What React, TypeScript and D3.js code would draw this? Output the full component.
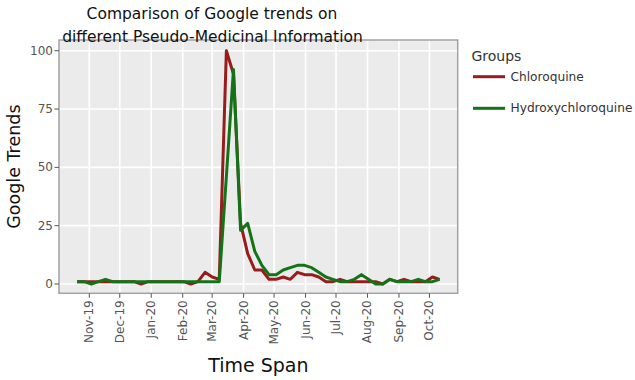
import React from "react";
import * as d3 from "d3";

const weeks = [
  "2019-10-20","2019-10-27","2019-11-03","2019-11-10","2019-11-17","2019-11-24",
  "2019-12-01","2019-12-08","2019-12-15","2019-12-22","2019-12-29",
  "2020-01-05","2020-01-12","2020-01-19","2020-01-26",
  "2020-02-02","2020-02-09","2020-02-16","2020-02-23",
  "2020-03-01","2020-03-08","2020-03-15","2020-03-22","2020-03-29",
  "2020-04-05","2020-04-12","2020-04-19","2020-04-26",
  "2020-05-03","2020-05-10","2020-05-17","2020-05-24","2020-05-31",
  "2020-06-07","2020-06-14","2020-06-21","2020-06-28",
  "2020-07-05","2020-07-12","2020-07-19","2020-07-26",
  "2020-08-02","2020-08-09","2020-08-16","2020-08-23","2020-08-30",
  "2020-09-06","2020-09-13","2020-09-20","2020-09-27",
  "2020-10-04","2020-10-11",
];

const chloroquine = [
  1, 1, 1, 1, 1, 1, 1, 1, 1, 0, 1,
  1, 1, 1, 1, 1, 0, 1, 5, 3, 2,
  100, 90, 26, 13, 6, 6, 2, 2, 3, 2,
  5, 4, 4, 3, 1, 1, 2, 1, 1, 1,
  1, 1, 0, 2, 1, 2, 1, 1, 1, 3, 2,
];

const hydroxychloroquine = [
  1, 1, 0, 1, 2, 1, 1, 1, 1, 1, 1,
  1, 1, 1, 1, 1, 1, 1, 1, 1, 1,
  46, 92, 23, 26, 14, 8, 4, 4, 6, 7,
  8, 8, 7, 5, 3, 2, 1, 1, 2, 4,
  2, 0, 0, 2, 1, 1, 1, 2, 1, 1, 2,
];

const monthTicks = [
  "2019-11-01","2019-12-01","2020-01-01","2020-02-01","2020-03-01","2020-04-01",
  "2020-05-01","2020-06-01","2020-07-01","2020-08-01","2020-09-01","2020-10-01",
];
const monthLabels = [
  "Nov-19","Dec-19","Jan-20","Feb-20","Mar-20","Apr-20",
  "May-20","Jun-20","Jul-20","Aug-20","Sep-20","Oct-20",
];
const yTicks = [0, 25, 50, 75, 100];

const groupNames = ["Chloroquine", "Hydroxychloroquine"];
const groupColors = ["#971c1c", "#137317"];

const W = 635;
const H = 380;
const P = { left: 59, right: 457.7, top: 40, bottom: 293.3 };
const FONT = "'DejaVu Sans', Verdana, sans-serif";

export default function App() {
  const dates = weeks.map((s) => new Date(s + "T00:00:00Z"));
  const d0 = dates[0].getTime();
  const d1 = dates[dates.length - 1].getTime();
  const pad = (d1 - d0) * 0.05;
  const x = d3
    .scaleUtc()
    .domain([new Date(d0 - pad), new Date(d1 + pad)])
    .range([P.left, P.right]);
  const y = d3.scaleLinear().domain([-4, 104.6]).range([P.bottom, P.top]);

  const line = d3
    .line<number>()
    .x((_, i) => x(dates[i]))
    .y((v) => y(v));

  const series = [chloroquine, hydroxychloroquine];
  const tickDates = monthTicks.map((s) => new Date(s + "T00:00:00Z"));

  return (
    <svg
      width={W}
      height={H}
      style={{ position: "absolute", left: 0, top: 0, background: "#fff" }}
      fontFamily={FONT}
    >
      <rect x={0} y={0} width={W} height={H} fill="#fff" />
      <rect
        x={P.left}
        y={P.top}
        width={P.right - P.left}
        height={P.bottom - P.top}
        fill="#ebebeb"
      />
      {yTicks.map((t) => (
        <line
          key={"gy" + t}
          x1={P.left}
          x2={P.right}
          y1={y(t)}
          y2={y(t)}
          stroke="#fff"
          strokeWidth={1.6}
        />
      ))}
      {tickDates.map((d, i) => (
        <line
          key={"gx" + i}
          x1={x(d)}
          x2={x(d)}
          y1={P.top}
          y2={P.bottom}
          stroke="#fff"
          strokeWidth={1.6}
        />
      ))}
      {series.map((s, i) => (
        <path
          key={"s" + i}
          d={line(s) || ""}
          fill="none"
          stroke={groupColors[i]}
          strokeWidth={3}
          strokeLinejoin="round"
        />
      ))}
      <rect
        x={P.left}
        y={P.top}
        width={P.right - P.left}
        height={P.bottom - P.top}
        fill="none"
        stroke="#a3a3a3"
        strokeWidth={1.5}
      />
      {yTicks.map((t) => (
        <g key={"ty" + t}>
          <line x1={P.left - 4.5} x2={P.left} y1={y(t)} y2={y(t)} stroke="#555" strokeWidth={1} />
          <text
            x={P.left - 6}
            y={y(t)}
            textAnchor="end"
            dominantBaseline="central"
            fontSize={12}
            fill="#555"
          >
            {t}
          </text>
        </g>
      ))}
      {tickDates.map((d, i) => (
        <g key={"tx" + i}>
          <line x1={x(d)} x2={x(d)} y1={P.bottom} y2={P.bottom + 4.5} stroke="#555" strokeWidth={1} />
          <text
            transform={`translate(${x(d)},${P.bottom + 7}) rotate(-90)`}
            textAnchor="end"
            dominantBaseline="central"
            fontSize={12}
            fill="#555"
          >
            {monthLabels[i]}
          </text>
        </g>
      ))}
      <text x={212} y={18.5} textAnchor="middle" fontSize={15.5} fill="#111">
        Comparison of Google trends on
      </text>
      <text x={212.5} y={41.5} textAnchor="middle" fontSize={15.5} fill="#111">
        different Pseudo-Medicinal Information
      </text>
      <text
        x={(P.left + P.right) / 2}
        y={371.5}
        textAnchor="middle"
        fontSize={19}
        fill="#111"
      >
        Time Span
      </text>
      <text
        transform={`translate(20,${(P.top + P.bottom) / 2}) rotate(-90)`}
        textAnchor="middle"
        fontSize={17.5}
        fill="#111"
      >
        Google Trends
      </text>
      <text x={471.5} y={60.5} fontSize={14} fill="#333">
        Groups
      </text>
      {groupNames.map((g, i) => {
        const ly = 76.7 + i * 31.6;
        return (
          <g key={"lg" + i}>
            <line x1={473} x2={505} y1={ly} y2={ly} stroke={groupColors[i]} strokeWidth={3} />
            <text x={510.5} y={ly} dominantBaseline="central" fontSize={12.2} fill="#333">
              {g}
            </text>
          </g>
        );
      })}
    </svg>
  );
}
